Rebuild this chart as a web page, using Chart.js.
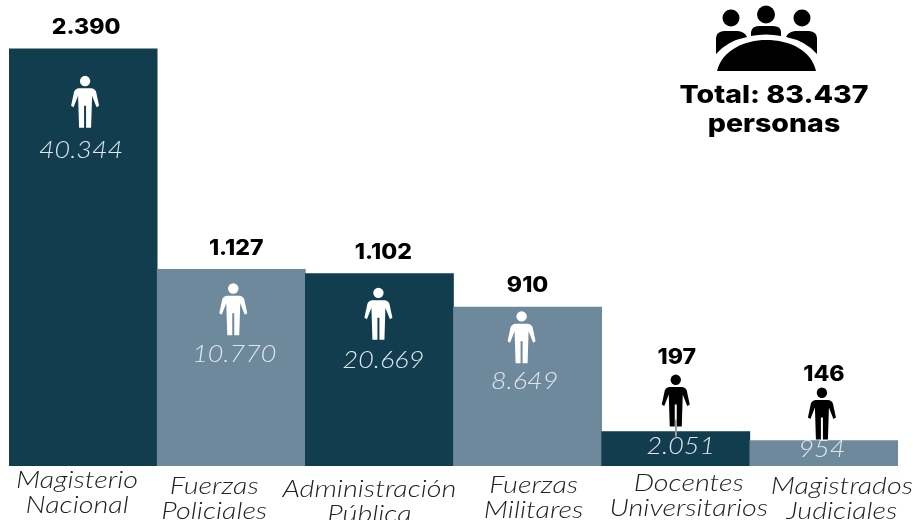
<!DOCTYPE html>
<html lang="es">
<head>
<meta charset="utf-8">
<title>Total: 83.437 personas</title>
<script src="https://cdn.jsdelivr.net/npm/chart.js@4"></script>
<style>
  html, body { margin: 0; padding: 0; background: #fff; }
  #wrap { position: relative; width: 913px; height: 520px; }
</style>
</head>
<body>
<div id="wrap"><canvas id="c" width="913" height="520"></canvas></div>
<script>
// Values
const categories = [['Magisterio', 'Nacional'], ['Fuerzas', 'Policiales'], ['Administración', 'Pública'], ['Fuerzas', 'Militares'], ['Docentes', 'Universitarios'], ['Magistrados', 'Judiciales']];
const barValues = [2390, 1127, 1102, 910, 197, 146];
const barLabels = ['2.390', '1.127', '1.102', '910', '197', '146'];
const innerLabels = ['40.344', '10.770', '20.669', '8.649', '2.051', '954'];
const totalLines = ['Total: 83.437', 'personas'];

// Colours and hand placement, relative to each bar
const DARK = '#113d4f';
const LIGHT = '#6e899b';
const barColors = [DARK, LIGHT, DARK, LIGHT, DARK, LIGHT];
const iconColors = ['#fff', '#fff', '#fff', '#fff', '#000', '#000'];
const topLabelDx = [3, 5, 4, 0, 1, 0];
const topLabelDy = [-21, -21, -21, -21, -74, -66];
const iconDx = [2, 2, -1, -6, 0, -2];
const iconDy = [27, 14, 14, 4, -57, -53];
const innerDx = [-2, 3, 4, -3, 5, -2];
const innerY = [150, 354, 360, 381, 446, 449];
const catDx = [-6, -17, -10, 6, 13, 18];
const catY = [481, 487, 490, 486, 484, 487];

// centred text, stretched sideways to get closer to the wide geometric face of the original
function text(ctx, str, x, y, font, color, stretch) {
  ctx.save();
  ctx.font = font;
  ctx.fillStyle = color;
  ctx.textAlign = 'center';
  ctx.textBaseline = 'middle';
  ctx.translate(x, y);
  ctx.scale(stretch, 1);
  ctx.fillText(str, 0, 0);
  ctx.restore();
}

// person pictogram, 52px tall from the top of the head
function person(ctx, cx, top, color) {
  ctx.fillStyle = color;
  ctx.beginPath();
  ctx.arc(cx, top + 5.2, 5.2, 0, Math.PI * 2);
  ctx.fill();
  ctx.beginPath();
  ctx.moveTo(cx - 6.5, top + 12.5);
  ctx.lineTo(cx + 6.5, top + 12.5);
  ctx.quadraticCurveTo(cx + 10, top + 13, cx + 11, top + 16);
  ctx.lineTo(cx + 14, top + 30);
  ctx.lineTo(cx + 11.5, top + 31.5);
  ctx.lineTo(cx + 7, top + 20);
  ctx.lineTo(cx + 6, top + 52);
  ctx.lineTo(cx + 1, top + 52);
  ctx.lineTo(cx + 1, top + 30);
  ctx.lineTo(cx - 1, top + 30);
  ctx.lineTo(cx - 1, top + 52);
  ctx.lineTo(cx - 6, top + 52);
  ctx.lineTo(cx - 7, top + 20);
  ctx.lineTo(cx - 11.5, top + 31.5);
  ctx.lineTo(cx - 14, top + 30);
  ctx.lineTo(cx - 11, top + 16);
  ctx.quadraticCurveTo(cx - 10, top + 13, cx - 6.5, top + 12.5);
  ctx.closePath();
  ctx.fill();
}

// meeting-table pictogram top right
function group(ctx) {
  ctx.fillStyle = '#000';
  [[731, 18, 8.5], [766, 14.5, 9], [802, 18, 8.5]].forEach(([x, y, r]) => {
    ctx.beginPath();
    ctx.arc(x, y, r, 0, Math.PI * 2);
    ctx.fill();
  });
  // table
  ctx.beginPath();
  ctx.moveTo(717, 71);
  ctx.bezierCurveTo(722, 50, 745, 40, 766, 40);
  ctx.bezierCurveTo(790, 40, 811, 50, 816, 71);
  ctx.closePath();
  ctx.fill();
  // left shoulder
  ctx.beginPath();
  ctx.moveTo(716, 54);
  ctx.lineTo(716, 38);
  ctx.quadraticCurveTo(716, 32, 724, 31);
  ctx.lineTo(738, 31);
  ctx.quadraticCurveTo(745, 32, 747, 37);
  ctx.quadraticCurveTo(727, 41, 716, 54);
  ctx.fill();
  // right shoulder
  ctx.beginPath();
  ctx.moveTo(817, 54);
  ctx.lineTo(817, 38);
  ctx.quadraticCurveTo(817, 32, 809, 31);
  ctx.lineTo(795, 31);
  ctx.quadraticCurveTo(788, 32, 786, 37);
  ctx.quadraticCurveTo(806, 41, 817, 54);
  ctx.fill();
  // middle shoulders
  ctx.beginPath();
  ctx.moveTo(751, 36);
  ctx.lineTo(751, 32);
  ctx.quadraticCurveTo(752, 26, 759, 26);
  ctx.lineTo(773, 26);
  ctx.quadraticCurveTo(781, 26, 781, 32);
  ctx.lineTo(781, 36);
  ctx.quadraticCurveTo(766, 33, 751, 36);
  ctx.fill();
}

const annotations = {
  id: 'annotations',
  afterDatasetsDraw(chart) {
    const { ctx } = chart;
    const bars = chart.getDatasetMeta(0).data;
    const xScale = chart.scales.x;
    ctx.save();
    bars.forEach((bar, i) => {
      text(ctx, barLabels[i], bar.x + topLabelDx[i], bar.y + topLabelDy[i], '800 21px Inter', '#000', 1.1);
      person(ctx, bar.x + iconDx[i], bar.y + iconDy[i], iconColors[i]);
      if (i === 4) {
        // thin grey seam under the dark figure
        ctx.fillStyle = '#9a9a9a';
        ctx.fillRect(bar.x - 0.8, bar.y - 12, 2, 17);
      }
      text(ctx, innerLabels[i], bar.x + innerDx[i], innerY[i], 'italic 300 24px Lato', '#dfe7ec', 1.12);
      const cx = xScale.getPixelForTick(i) + catDx[i];
      categories[i].forEach((line, k) => {
        text(ctx, line, cx, catY[i] + k * 25, 'italic 300 23px Lato', '#222', 1.25);
      });
    });
    group(ctx);
    totalLines.forEach((line, k) => {
      text(ctx, line, 774, 95 + k * 29, '800 25px Inter', '#000', 1.14);
    });
    ctx.restore();
  }
};

new Chart(document.getElementById('c'), {
  type: 'bar',
  data: {
    labels: categories,
    datasets: [{ data: barValues, backgroundColor: barColors, barPercentage: 1, categoryPercentage: 1, borderWidth: 0 }],
  },
  options: {
    responsive: false,
    animation: false,
    layout: { padding: { left: 9, right: 15, top: 0, bottom: 54 } },
    plugins: { legend: { display: false }, tooltip: { enabled: false } },
    scales: {
      x: { display: false },
      y: { display: false, min: 0, max: 2670 },
    },
  },
  plugins: [annotations],
});
</script>
</body>
</html>
